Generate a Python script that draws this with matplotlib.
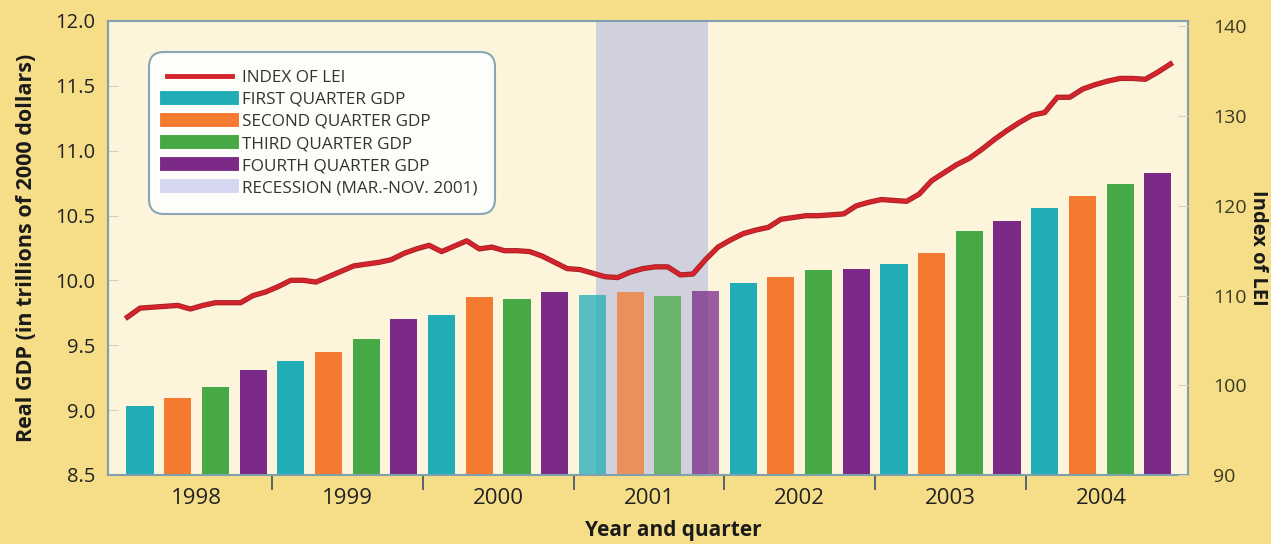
import numpy as np
import matplotlib
matplotlib.use("Agg")
import matplotlib.pyplot as plt
import matplotlib.patheffects as pe
from matplotlib.lines import Line2D
from matplotlib.ticker import FixedLocator, NullFormatter

plt.rcParams['font.family'] = ['Open Sans', 'DejaVu Sans']

# Data
years = ['1998', '1999', '2000', '2001', '2002', '2003', '2004']
quarter_names = ['FIRST QUARTER GDP', 'SECOND QUARTER GDP',
                 'THIRD QUARTER GDP', 'FOURTH QUARTER GDP']
# Real GDP, trillions of 2000 dollars, 1998Q1 .. 2004Q4
gdp = [9.03, 9.09, 9.18, 9.31,
       9.38, 9.45, 9.55, 9.70,
       9.73, 9.87, 9.86, 9.91,
       9.89, 9.91, 9.88, 9.92,
       9.98, 10.03, 10.08, 10.09,
       10.13, 10.21, 10.38, 10.46,
       10.56, 10.65, 10.74, 10.83]
# Index of leading economic indicators, monthly Jan 1998 .. Dec 2004
lei = [107.6, 108.6, 108.7, 108.8, 108.9, 108.5, 108.9, 109.2, 109.2, 109.2, 110.0, 110.4,
       111.0, 111.7, 111.7, 111.5, 112.1, 112.7, 113.3, 113.5, 113.7, 114.0, 114.7, 115.2,
       115.6, 114.9, 115.5, 116.1, 115.2, 115.4, 115.0, 115.0, 114.9, 114.4, 113.7, 113.0,
       112.9, 112.5, 112.1, 112.0, 112.6, 113.0, 113.2, 113.2, 112.3, 112.4, 114.0, 115.4,
       116.2, 116.9, 117.3, 117.6, 118.5, 118.7, 118.9, 118.9, 119.0, 119.1, 120.0, 120.4,
       120.7, 120.6, 120.5, 121.3, 122.8, 123.7, 124.6, 125.3, 126.3, 127.4, 128.4, 129.3,
       130.1, 130.4, 132.1, 132.1, 133.0, 133.5, 133.9, 134.2, 134.2, 134.1, 134.9, 135.8]
# Recession span in quarter-index units (Mar - Nov 2001)
recession = (12.1, 15.07)

quarter_colors = ['#21adb6', '#f47a2f', '#47a945', '#7b2a88']
line_color = '#d3242b'
recession_color = '#d0d1dc'

fig = plt.figure(figsize=(12.71, 5.44), dpi=100, facecolor='#f6de89')
ax = fig.add_axes([108 / 1271, 1 - 475 / 544, 1080 / 1271, 454 / 544])
ax.set_facecolor('#fdf4dc')

x = np.arange(len(gdp))
ax.axvspan(recession[0], recession[1], color=recession_color, zorder=0.5, lw=0)
for i, val in enumerate(gdp):
    in_rec = recession[0] - 0.5 < i < recession[1]
    ax.bar(i, val - 8.5, bottom=8.5, width=0.72, color=quarter_colors[i % 4],
           alpha=0.75 if in_rec else 1.0, zorder=2, lw=0)

ax.set_xlim(-0.85, 27.8)
ax.set_ylim(8.5, 12.0)
ax.set_yticks(np.arange(8.5, 12.01, 0.5))
ax.set_yticklabels([f'{v:.1f}' for v in np.arange(8.5, 12.01, 0.5)])
ax.tick_params(axis='y', direction='in', length=7, color='#d8d0bc', labelsize=14.5,
               labelcolor='#222222', pad=9)

# year labels centred, boundary ticks between years
ax.set_xticks(np.arange(len(years)) * 4 + 1.5)
ax.set_xticklabels(years)
ax.tick_params(axis='x', which='major', length=0, labelsize=16, labelcolor='#222222', pad=9)
ax.xaxis.set_minor_locator(FixedLocator(np.arange(1, len(years)) * 4 - 0.5))
ax.xaxis.set_minor_formatter(NullFormatter())
ax.tick_params(axis='x', which='minor', direction='out', length=11, width=1.3, color='#4a5a66')

ax.set_ylabel('Real GDP (in trillions of 2000 dollars)', fontsize=15.5, fontweight='bold',
              color='#1a1a1a')
ax.yaxis.set_label_coords(-0.066, 0.5)
ax.set_xlabel('Year and quarter', fontsize=15, fontweight='bold', color='#1a1a1a')
ax.xaxis.set_label_coords(0.523, -0.1)

for s in ax.spines.values():
    s.set_color('#7fa0ad')
    s.set_linewidth(1.5)

# LEI on right axis
ax2 = ax.twinx()
ax2.set_ylim(90.1, 140.6)
ax2.set_yticks(np.arange(90, 141, 10))
ax2.tick_params(axis='y', direction='in', length=7, color='#d8d0bc', labelsize=14,
                labelcolor='#3a3a22', pad=18)
ax2.set_ylabel('Index of LEI', fontsize=14.5, fontweight='bold', color='#1a1a1a',
               rotation=270, va='center')
ax2.yaxis.set_label_coords(1.065, 0.5)
for s in ax2.spines.values():
    s.set_visible(False)
months = -0.5 + (np.arange(len(lei)) + 0.5) / 3
ax2.plot(months, lei, color=line_color, lw=2.6, zorder=3, solid_joinstyle='round',
         path_effects=[pe.Stroke(linewidth=3.8, foreground='#a51e25'), pe.Normal()])

handles = [Line2D([0], [0], color=line_color, lw=3.5)]
handles += [Line2D([0], [0], color=c, lw=10) for c in quarter_colors]
handles += [Line2D([0], [0], color='#d6d8f2', lw=10)]
labels = ['INDEX OF LEI'] + quarter_names + ['RECESSION (MAR.-NOV. 2001)']
leg = ax2.legend(handles, labels, loc='upper left', bbox_to_anchor=(0.041, 0.925),
                 borderaxespad=0, frameon=True, fontsize=12.3, handlelength=3.8,
                 handletextpad=0.6, labelspacing=0.36, borderpad=0.85,
                 facecolor='#fdfdfa', edgecolor='#8aa6b2', framealpha=1)
leg.get_frame().set_linewidth(1.5)
leg.get_frame().set_boxstyle('round,pad=0.2,rounding_size=0.9')
for t in leg.get_texts():
    t.set_color('#333333')

fig.savefig('out.png', dpi=100, facecolor=fig.get_facecolor())
